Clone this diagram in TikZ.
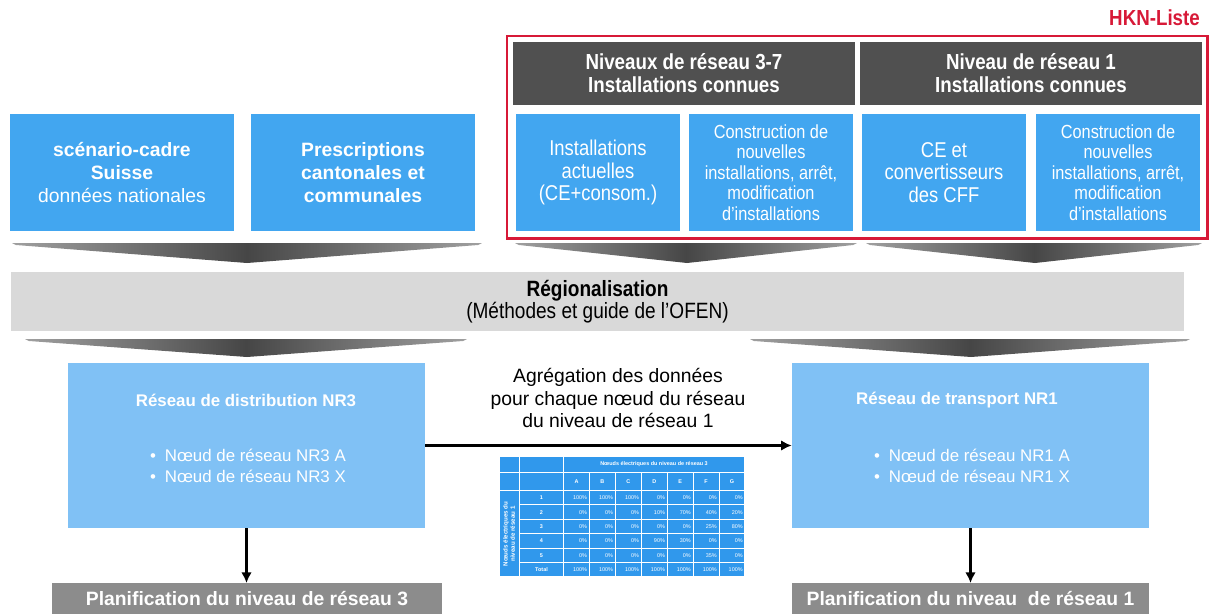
\documentclass[tikz,border=0pt]{standalone}
\usepackage{fontspec}
\setmainfont{Liberation Sans}
\newfontfamily\narrowfont[FakeStretch=0.86]{Liberation Sans}
\usetikzlibrary{arrows.meta}
\definecolor{hknred}{RGB}{215,25,55}
\definecolor{midblue}{RGB}{66,166,240}
\definecolor{lightblue}{RGB}{128,193,245}
\definecolor{darkhdr}{RGB}{80,80,80}
\definecolor{bandgrey}{RGB}{217,217,217}
\definecolor{plangrey}{RGB}{140,140,140}
\definecolor{chevdark}{RGB}{70,70,70}
\definecolor{chevlight}{RGB}{160,160,160}
\definecolor{tabblue}{RGB}{48,152,236}
\tikzset{topbox/.style={fill=midblue,text=white,minimum height=2.34cm,align=center,inner sep=1pt},
	hdrbox/.style={fill=darkhdr,text=white,minimum width=6.84cm,minimum height=1.26cm,align=center,
		font=\narrowfont\bfseries\fontsize{12.4}{13}\selectfont},
	bandbox/.style={fill=bandgrey,minimum width=23.46cm,minimum height=1.18cm,align=center,
		font=\narrowfont\fontsize{12.6}{12.6}\selectfont},
	netbox/.style={fill=lightblue,minimum width=7.14cm,minimum height=3.3cm},
	nettitle/.style={text=white,font=\bfseries\fontsize{9.6}{11}\selectfont},
	netlist/.style={text=white,align=left,font=\fontsize{9.6}{11.9}\selectfont},
	planbox/.style={fill=plangrey,text=white,minimum height=0.62cm,anchor=north,
		font=\bfseries\fontsize{11}{13}\selectfont},
	flow/.style={-{Latex[length=6pt,width=6pt]},line width=1.5pt}}
% wide grey arrow band: left x, right x, tip x, top y, depth
\newcommand{\arrowband}[5]{\shade[left color=chevlight,right color=chevlight,middle color=chevdark]
	(#1,#4) -- (#2,#4) -- ({#2-4},{#4+2}) -- (#3,{#4+#5}) -- ({#1+4},{#4+2}) -- cycle;}

\begin{document}
\begin{tikzpicture}[x=0.02cm,y=-0.02cm]
	\useasboundingbox (0,0) rectangle (1211,613);
	% national and cantonal inputs
	\begin{scope}[every node/.style={topbox,minimum width=4.48cm,font=\fontsize{11}{13}\selectfont}]
		\node (scen) at (122,172.5) {\textbf{scénario-cadre}\\\textbf{Suisse}\\données nationales};
		\node (presc) at (363,172.5) {\textbf{Prescriptions}\\\textbf{cantonales et}\\\textbf{communales}};
	\end{scope}
	% HKN list
	\draw[hknred,line width=1.7pt] (507,36) rectangle (1207,238);
	\node[anchor=east,text=hknred,font=\narrowfont\bfseries\fontsize{12.4}{14}\selectfont] (hknlbl) at (1206,18) {HKN-Liste};
	\node[hdrbox] (nr37) at (684,73.5) {Niveaux de réseau 3-7\\Installations connues};
	\node[hdrbox] (niv1) at (1031,73.5) {Niveau de réseau 1\\Installations connues};
	\begin{scope}[every node/.style={topbox,minimum width=3.3cm}]
		\node[font=\narrowfont\fontsize{12.2}{13}\selectfont] (actu) at (598,172.5) {Installations\\actuelles\\(CE+consom.)};
		\node[font=\narrowfont\fontsize{10.8}{11.6}\selectfont] (constra) at (771,172.5)
			{Construction de\\nouvelles\\installations, arrêt,\\modification\\d’installations};
		\node[font=\narrowfont\fontsize{12.2}{13}\selectfont] (cecff) at (944,172.5) {CE et\\convertisseurs\\des CFF};
		\node[font=\narrowfont\fontsize{10.8}{11.6}\selectfont] (constrb) at (1118,172.5)
			{Construction de\\nouvelles\\installations, arrêt,\\modification\\d’installations};
	\end{scope}
	\arrowband{12}{482}{247}{243}{20}
	\arrowband{515}{857}{687}{243}{20}
	\arrowband{866}{1202}{1035}{243}{20}
	% regionalisation
	\node[bandbox] (regio) at (597.5,301.5) {\textbf{Régionalisation}\\(Méthodes et guide de l’OFEN)};
	\arrowband{25}{467}{247}{339}{18}
	\arrowband{750}{1190}{971}{339}{18}
	% networks
	\node[netbox] (nr3) at (246.5,445.5) {};
	\node[netbox] (nr1) at (970.5,445.5) {};
	\node[nettitle] (nr3t) at (246,400) {Réseau de distribution NR3};
	\node[nettitle] (nr1t) at (957,400) {Réseau de transport NR1};
	\node[netlist] (nr3l) at (248,466) {\textbullet\hspace{5pt}Nœud de réseau NR3 A\\\textbullet\hspace{5pt}Nœud de réseau NR3 X};
	\node[netlist] (nr1l) at (972,466) {\textbullet\hspace{5pt}Nœud de réseau NR1 A\\\textbullet\hspace{5pt}Nœud de réseau NR1 X};
	\node[align=center,font=\fontsize{11}{13}\selectfont] (aggr) at (618,398)
		{Agrégation des données\\pour chaque nœud du réseau\\du niveau de réseau 1};
	\node[planbox,minimum width=7.8cm] (plan3) at (247,583) {Planification du niveau de réseau 3};
	\node[planbox,minimum width=7.14cm] (plan1) at (970.5,583) {Planification du niveau\ \ de réseau 1};
	\draw[flow] (nr3) -- (nr1);
	\draw[flow] (nr3.south) -- (nr3.south |- plan3.north);
	\draw[flow] (nr1.south) -- (nr1.south |- plan1.north);
	% allocation table
	\begin{scope}[every node/.style={text=white,inner sep=0pt,font=\fontsize{3.1}{3.5}\selectfont}]
		\fill[tabblue] (499,456) rectangle (745,577);
		\draw[white,line width=0.7pt] (499,456) rectangle (745,577);
		\draw[white,line width=0.6pt] (519.5,456) -- (519.5,577) (563.5,456) -- (563.5,577)
			(499,472.5) -- (745,472.5) (499,490.5) -- (745,490.5);
		\foreach \k in {1,...,6}
			\draw[white,line width=0.6pt] ({563.5+\k*25.93},472.5) -- ({563.5+\k*25.93},577);
		\foreach \k in {1,...,5}
			\draw[white,line width=0.6pt] (519.5,{490.5+\k*14.42}) -- (745,{490.5+\k*14.42});
		\node[font=\bfseries\fontsize{3.1}{3.5}\selectfont] (tabhd) at (654,464) {Nœuds électriques du niveau de réseau 3};
		\node[rotate=90,align=center,font=\bfseries\fontsize{3.5}{4.2}\selectfont] (tabside) at (509,534)
			{Nœuds électriques du\\niveau de réseau 1};
		\foreach \c [count=\i] in {A,...,G}
			\node[font=\bfseries\fontsize{3.1}{3.5}\selectfont] at ({563.5+(\i-0.5)*25.93},481.5) {\c};
		\foreach \lab/\vals [count=\j] in {1/{100\%,100\%,100\%,0\%,0\%,0\%,0\%},
				2/{0\%,0\%,0\%,10\%,70\%,40\%,20\%},3/{0\%,0\%,0\%,0\%,0\%,25\%,80\%},
				4/{0\%,0\%,0\%,90\%,30\%,0\%,0\%},5/{0\%,0\%,0\%,0\%,0\%,35\%,0\%},
				Total/{100\%,100\%,100\%,100\%,100\%,100\%,100\%}} {
			\node[font=\bfseries\fontsize{3.1}{3.5}\selectfont] at (541.5,{490.5+(\j-0.5)*14.42}) {\lab};
			\foreach \v [count=\i] in \vals
				\node[anchor=east] at ({563.5+\i*25.93-2},{490.5+(\j-0.5)*14.42}) {\v};
		}
	\end{scope}
\end{tikzpicture}
\end{document}
